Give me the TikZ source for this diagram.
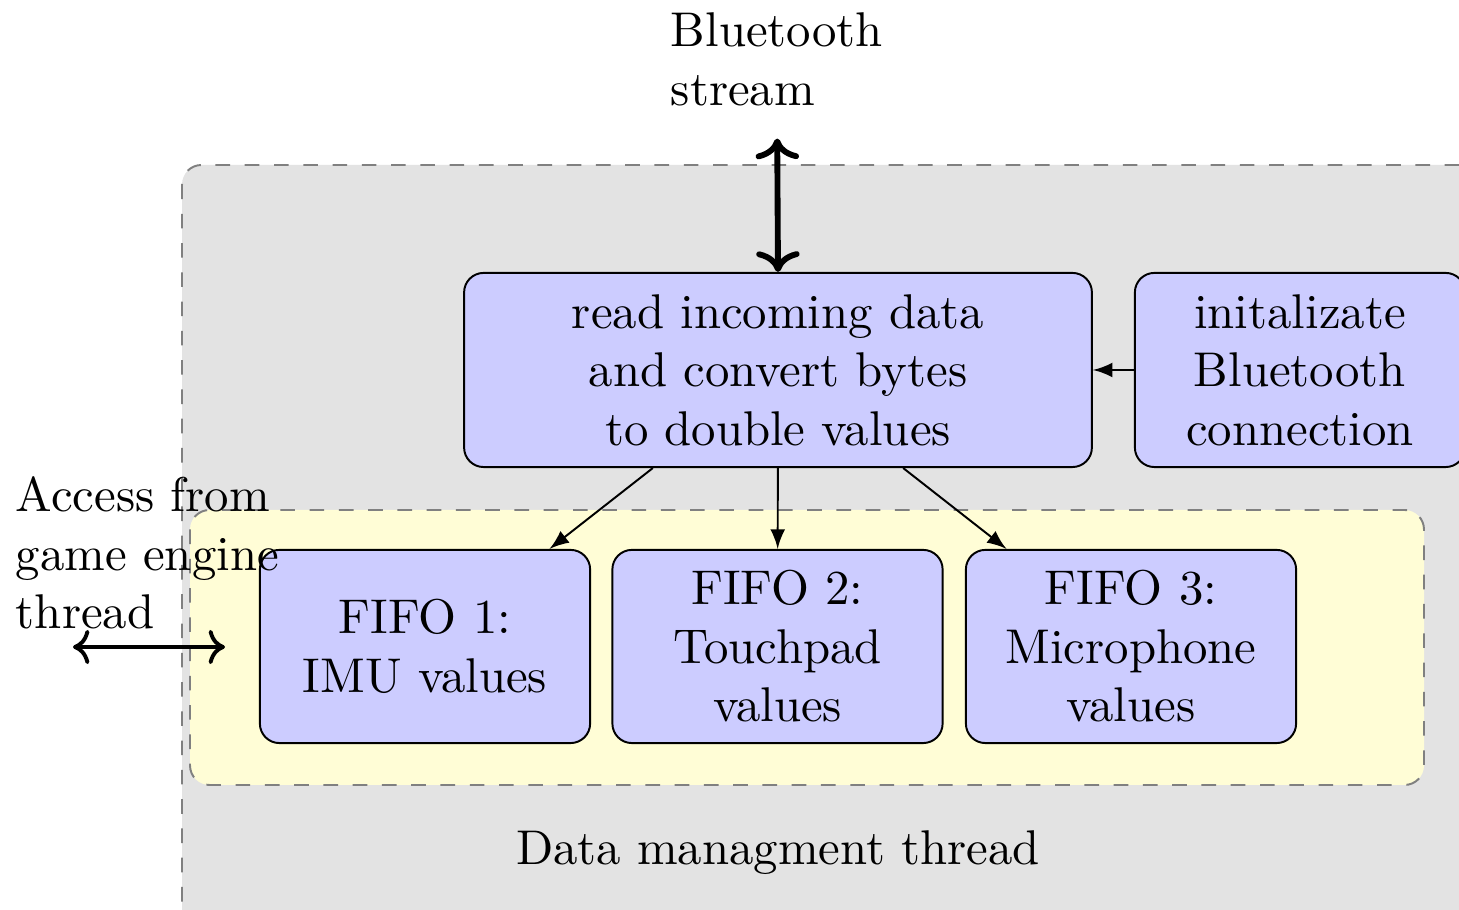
\documentclass[tikz,border=0pt]{standalone}
\usetikzlibrary{arrows.meta}
\begin{document}
\begin{tikzpicture}[x=0.205pt,y=-0.205pt,
  every node/.style={font=\fontsize{10}{12}\selectfont},
  box/.style={draw=black, line width=0.4pt, rounded corners=4pt, fill=blue!20, align=center, inner sep=0pt},
  smallbox/.style={box, minimum width=67.7pt, minimum height=39.6pt},
  region/.style={draw=gray, dashed, rounded corners=4pt, line width=0.4pt},
  thin arrow/.style={-latex, line width=0.4pt},
  plain/.style={inner sep=0pt, align=left}]
\useasboundingbox (0,0) rectangle (1459,910);
\clip (0,0) rectangle (1459,910);
% regions
\draw[region, fill=black!11] (182,165) rectangle (1540,990);
\draw[region, fill=yellow!16] (190,510) rectangle (1424,785);
% nodes
\node[plain, anchor=north west] (bt) at (670,12) {Bluetooth\\stream};
\node[box, minimum width=128.7pt, minimum height=39.8pt] (read) at (778,370) {read incoming data\\and convert bytes\\to double values};
\node[box, minimum width=67.7pt, minimum height=39.8pt] (init) at (1300,370) {initalizate\\Bluetooth\\connection};
\node[smallbox] (f1) at (425,646.5) {FIFO 1:\\IMU values};
\node[smallbox] (f2) at (777.5,646.5) {FIFO 2:\\Touchpad\\values};
\node[smallbox] (f3) at (1131,646.5) {FIFO 3:\\Microphone\\values};
\node[plain, anchor=north west] (acc) at (15,476) {Access from\\game engine\\thread};
\node[anchor=base] (dm) at (778,865) {Data managment thread};
\coordinate (accL) at (73,647);
\coordinate (accR) at (225,647);
% connectors
\draw[<->, line width=1.2pt, shorten <=6.5pt] (bt.south) -- (read.north);
\draw[thin arrow] (init) -- (read);
\draw[thin arrow] (read) -- (f1);
\draw[thin arrow] (read) -- (f2);
\draw[thin arrow] (read) -- (f3);
\draw[<->, line width=0.8pt] (accL) -- (accR);
\end{tikzpicture}
\end{document}
